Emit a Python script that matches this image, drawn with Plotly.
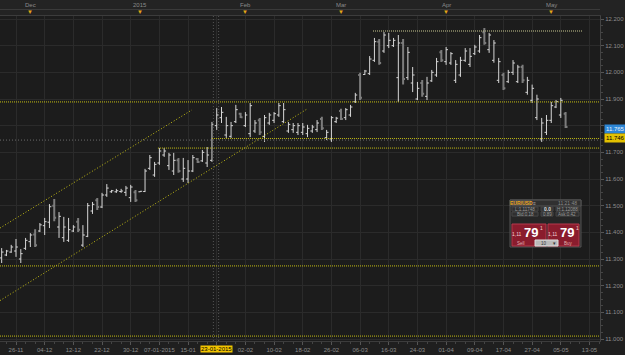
import plotly.graph_objects as go
import pandas as pd

# ---------------- data (daily OHLC, one bar per weekday from 21-11-2014) -------------
opens = [11.304, 11.315, 11.326, 11.330, 11.300, 11.340, 11.365, 11.392, 11.405, 11.425,
         11.438, 11.500, 11.420, 11.380, 11.370, 11.405, 11.440, 11.352, 11.385, 11.480,
         11.520, 11.495, 11.540, 11.552, 11.552, 11.553, 11.550, 11.530, 11.550, 11.552,
         11.553, 11.640, 11.615, 11.660, 11.690, 11.650, 11.630, 11.670, 11.600, 11.600,
         11.630, 11.675, 11.668, 11.660, 11.670, 11.800, 11.830, 11.765, 11.760, 11.815,
         11.845, 11.800, 11.770, 11.780, 11.820, 11.760, 11.810, 11.820, 11.840, 11.815,
         11.780, 11.785, 11.775, 11.775, 11.770, 11.780, 11.785, 11.825, 11.755, 11.750,
         11.815, 11.855, 11.830, 11.840, 11.890, 11.990, 11.992, 11.995, 12.045, 12.115,
         12.080, 12.100, 12.100, 11.980, 12.110, 11.980, 11.960, 11.900, 11.960, 11.910,
         11.968, 11.990, 12.075, 12.040, 12.035, 11.970, 11.990, 12.045, 12.030, 12.070,
         12.080, 12.150, 12.085, 12.045, 11.970, 11.990, 11.965, 12.000, 11.965, 12.020,
         11.925, 11.895, 11.830, 11.750, 11.775, 11.820, 11.870, 11.840, 11.845]
highs = [11.341, 11.334, 11.353, 11.375, 11.337, 11.379, 11.397, 11.412, 11.435, 11.454,
         11.506, 11.525, 11.476, 11.458, 11.454, 11.427, 11.454, 11.427, 11.510, 11.514,
         11.529, 11.548, 11.581, 11.559, 11.563, 11.563, 11.574, 11.578, 11.559, 11.555,
         11.638, 11.690, 11.664, 11.716, 11.716, 11.698, 11.698, 11.679, 11.679, 11.671,
         11.690, 11.679, 11.709, 11.720, 11.814, 11.866, 11.870, 11.833, 11.814, 11.878,
         11.848, 11.851, 11.885, 11.821, 11.829, 11.840, 11.848, 11.851, 11.885, 11.885,
         11.814, 11.810, 11.810, 11.810, 11.803, 11.803, 11.821, 11.833, 11.784, 11.836,
         11.833, 11.863, 11.866, 11.878, 11.923, 11.998, 12.009, 12.061, 12.129, 12.125,
         12.151, 12.148, 12.129, 12.140, 12.125, 12.095, 12.020, 11.964, 11.971, 11.983,
         12.009, 12.054, 12.084, 12.095, 12.076, 12.046, 12.058, 12.091, 12.091, 12.103,
         12.140, 12.166, 12.148, 12.121, 12.054, 11.998, 12.009, 12.046, 12.028, 12.028,
         11.983, 11.954, 11.916, 11.829, 11.840, 11.889, 11.896, 11.904, 11.851]
lows = [11.285, 11.311, 11.323, 11.308, 11.285, 11.334, 11.345, 11.345, 11.401, 11.390,
        11.416, 11.442, 11.379, 11.364, 11.364, 11.401, 11.401, 11.345, 11.382, 11.469,
        11.484, 11.491, 11.533, 11.548, 11.548, 11.548, 11.536, 11.514, 11.514, 11.551,
        11.551, 11.634, 11.608, 11.653, 11.683, 11.634, 11.615, 11.623, 11.589, 11.585,
        11.626, 11.660, 11.664, 11.645, 11.664, 11.784, 11.810, 11.754, 11.754, 11.810,
        11.829, 11.795, 11.757, 11.773, 11.765, 11.739, 11.803, 11.810, 11.833, 11.810,
        11.773, 11.773, 11.765, 11.765, 11.757, 11.773, 11.776, 11.784, 11.746, 11.739,
        11.810, 11.821, 11.821, 11.833, 11.885, 11.896, 11.990, 11.990, 12.039, 12.028,
        12.073, 12.091, 12.095, 11.889, 11.954, 11.971, 11.926, 11.896, 11.908, 11.896,
        11.964, 11.983, 12.039, 12.028, 12.028, 11.960, 11.983, 12.039, 12.020, 12.065,
        12.073, 12.103, 12.073, 12.036, 11.960, 11.934, 11.960, 11.990, 11.960, 11.960,
        11.916, 11.885, 11.821, 11.739, 11.765, 11.810, 11.866, 11.829, 11.791]
closes = [11.326, 11.330, 11.345, 11.345, 11.320, 11.370, 11.390, 11.352, 11.428, 11.440,
          11.496, 11.455, 11.460, 11.420, 11.410, 11.420, 11.410, 11.390, 11.500, 11.505,
          11.495, 11.540, 11.566, 11.556, 11.556, 11.555, 11.566, 11.570, 11.520, 11.554,
          11.630, 11.680, 11.655, 11.705, 11.705, 11.690, 11.670, 11.630, 11.640, 11.630,
          11.680, 11.664, 11.700, 11.690, 11.805, 11.840, 11.850, 11.800, 11.800, 11.860,
          11.832, 11.840, 11.875, 11.810, 11.775, 11.830, 11.840, 11.845, 11.875, 11.860,
          11.805, 11.800, 11.800, 11.795, 11.790, 11.795, 11.810, 11.790, 11.775, 11.830,
          11.828, 11.825, 11.860, 11.870, 11.915, 11.905, 12.005, 12.050, 12.115, 12.035,
          12.140, 12.120, 12.120, 12.110, 11.975, 12.075, 11.990, 11.940, 11.920, 11.960,
          12.000, 12.040, 12.045, 12.085, 12.070, 12.030, 12.045, 12.080, 12.060, 12.095,
          12.130, 12.110, 12.140, 12.110, 12.040, 11.940, 12.000, 12.035, 12.020, 11.970,
          11.970, 11.940, 11.900, 11.810, 11.820, 11.875, 11.890, 11.895, 11.795]

dates = [d.strftime("%d-%m-%Y") for d in pd.bdate_range("2014-11-21", periods=len(opens))]
bar_pos = list(range(len(opens)))

tick_labels = ["26-11", "04-12", "12-12", "22-12", "30-12", "07-01-2015", "15-01",
               "23-01-2015", "02-02", "10-02", "18-02", "26-02", "06-03", "16-03",
               "24-03", "01-04", "09-04", "17-04", "27-04", "05-05", "13-05"]
tick_pos = [3 + 6 * n for n in range(len(tick_labels))]
highlight_label = "23-01-2015"

month_labels = ["Dec", "2015", "Feb", "Mar", "Apr", "May"]
month_pos = [6, 29, 51, 71, 93, 115]

price_ticks = [11.0, 11.1, 11.2, 11.3, 11.4, 11.5, 11.6, 11.7, 11.8, 11.9, 12.0, 12.1, 12.2]

# drawn analysis levels (price) and trend lines (bar position, price)
full_levels = [11.889, 11.274, 11.011]
partial_levels = [(11.752, 44.0), (11.716, 32.7)]
top_level = (12.155, 77.7, 121.6)
upper_channel = [(-0.35, 11.416), (39.8, 11.859)]
lower_channel = [(-0.35, 11.144), (63.9, 11.8625)]
crosshair_price = 11.746
crosshair_pos = [44.3, 45.4]
last_price, cross_price = "11.765", "11.746"

XR = [-0.35, 125.2]
YR = [10.9925, 12.21125]
YEL = "#c4bd14"
DOT = "1px,1px"
DOT2 = "1px,2px"

fig = go.Figure()
fig.add_trace(go.Ohlc(
    x=bar_pos, open=opens, high=highs, low=lows, close=closes, text=dates,
    increasing=dict(line=dict(color="#d6d6d6", width=1)),
    decreasing=dict(line=dict(color="#7c7c7c", width=2)),
    tickwidth=0.4, hoverinfo="text+y"))

shapes = []
# top strip
shapes.append(dict(type="rect", xref="paper", yref="paper", x0=0, x1=1.05, y0=1.0, y1=1.06,
                   fillcolor="#232323", line=dict(width=0), layer="below"))
shapes.append(dict(type="line", xref="paper", yref="paper", x0=0, x1=1.0, y0=1.0200, y1=1.0200,
                   line=dict(color="#3a3a3a", width=1)))
for p in full_levels:
    shapes.append(dict(type="line", xref="x", yref="y", x0=XR[0], x1=XR[1], y0=p, y1=p,
                       line=dict(color=YEL, width=1, dash=DOT)))
for p, x0 in partial_levels:
    shapes.append(dict(type="line", xref="x", yref="y", x0=x0, x1=XR[1], y0=p, y1=p,
                       line=dict(color=YEL, width=1, dash=DOT)))
shapes.append(dict(type="line", xref="x", yref="y", x0=top_level[1], x1=top_level[2],
                   y0=top_level[0], y1=top_level[0],
                   line=dict(color="#c8c890", width=1, dash=DOT)))
for ln in (upper_channel, lower_channel):
    shapes.append(dict(type="line", xref="x", yref="y", x0=ln[0][0], y0=ln[0][1],
                       x1=ln[1][0], y1=ln[1][1], line=dict(color=YEL, width=1, dash=DOT2)))
# crosshair
shapes.append(dict(type="line", xref="x", yref="y", x0=XR[0], x1=XR[1],
                   y0=crosshair_price, y1=crosshair_price,
                   line=dict(color="#6a6a6a", width=1, dash=DOT2)))
for cx in crosshair_pos:
    shapes.append(dict(type="line", xref="x", yref="paper", x0=cx, x1=cx, y0=0, y1=1,
                       line=dict(color="#555555", width=1, dash=DOT2)))

# trading widget (paper coords)
def prect(x0, x1, y0, y1, fill, line="#4a4a4a", w=1):
    shapes.append(dict(type="rect", xref="paper", yref="paper", x0=x0, x1=x1, y0=y0, y1=y1,
                       fillcolor=fill, line=dict(color=line, width=w)))

prect(0.850, 0.9683, 0.2892, 0.4338, "#262626", "#555555")
prect(0.850, 0.9683, 0.4154, 0.4338, "#303030", "#555555")
prect(0.8533, 0.885, 0.4185, 0.4308, "#474747", "#5a5a5a")
for y0, y1 in ((0.3998, 0.4123), (0.3843, 0.3969)):
    prect(0.8533, 0.8967, y0, y1, "#2f2f2f", "#464646")
    prect(0.9017, 0.9217, y0, y1, "#333333", "#464646")
    prect(0.9267, 0.965, y0, y1, "#2f2f2f", "#464646")
prect(0.8533, 0.910, 0.2923, 0.360, "#8a1c2d", "#b5394c")
prect(0.9133, 0.965, 0.2923, 0.360, "#8a1c2d", "#b5394c")
prect(0.8917, 0.930, 0.2923, 0.3108, "#b9b9b9", "#dddddd")

ann = []
def ptxt(x, y, t, size=5, color="#9a9a9a", bold=False, xanchor="center"):
    ann.append(dict(xref="paper", yref="paper", x=x, y=y, text=("<b>%s</b>" % t) if bold else t,
                    showarrow=False, xanchor=xanchor, yanchor="middle",
                    font=dict(size=size, color=color)))

ptxt(0.869, 0.4246, "EUR/USD", 5, "#e8a21c", True)
ptxt(0.891, 0.4246, "≡", 5, "#aaaaaa")
ptxt(0.945, 0.4246, "11:21:48", 5, "#8a8a8a")
ptxt(0.875, 0.4061, "L:1.11748", 4.5)
ptxt(0.9117, 0.4061, "0.0", 5, "#dddddd", True)
ptxt(0.9458, 0.4061, "H:1.12088", 4.5)
ptxt(0.875, 0.3906, "Bid:0.18", 4.5)
ptxt(0.9117, 0.3906, "0.89", 4.5)
ptxt(0.9458, 0.3906, "Ask:0.42", 4.5)
for bx in (0.8533, 0.9133):
    ptxt(bx + 0.009, 0.330, "1,11", 5, "#f0d0d0")
    ptxt(bx + 0.0325, 0.333, "79", 13, "#ffffff", True)
    ptxt(bx + 0.049, 0.347, "1", 5, "#f0d0d0")
ptxt(0.868, 0.3015, "Sell", 4.5, "#e0b0b0")
ptxt(0.948, 0.3015, "Buy", 4.5, "#e0b0b0")
ptxt(0.906, 0.3015, "10", 4.5, "#333333")
ptxt(0.924, 0.3015, "▾", 5, "#333333")

# month labels + markers on the top strip
for t, mp in zip(month_labels, month_pos):
    ann.append(dict(xref="x", yref="paper", x=mp, y=1.0338, text=t, showarrow=False,
                    yanchor="middle", font=dict(size=6, color="#8a8a8a")))
    ann.append(dict(xref="x", yref="paper", x=mp, y=1.0110, text="▼", showarrow=False,
                    yanchor="middle", font=dict(size=6, color="#e3a818")))
# highlighted date
hp = tick_pos[tick_labels.index(highlight_label)]
ann.append(dict(xref="x", yref="paper", x=hp, y=-0.0246, text=highlight_label, showarrow=False,
                yanchor="middle", bgcolor="#f2c400", borderpad=0,
                font=dict(size=6, color="#000000")))
# price tags
ann.append(dict(xref="paper", yref="y", x=1.0067, y=11.7875, text=last_price, showarrow=False,
                xanchor="left", yanchor="middle", bgcolor="#2d86d6", borderpad=1,
                font=dict(size=6, color="#e8f4ff")))
ann.append(dict(xref="paper", yref="y", x=1.0067, y=11.754, text=cross_price, showarrow=False,
                xanchor="left", yanchor="middle", bgcolor="#e4c100", borderpad=1,
                font=dict(size=6, color="#000000")))

fig.update_layout(
    width=625, height=355, margin=dict(l=0, r=25, t=16, b=14),
    paper_bgcolor="#1f1f1f", plot_bgcolor="#1c1c1c", showlegend=False,
    font=dict(family="Liberation Sans", size=6, color="#8c8c8c"),
    shapes=shapes, annotations=ann,
    xaxis=dict(range=XR, tickmode="array", tickvals=tick_pos,
               ticktext=["" if t == highlight_label else t for t in tick_labels],
               ticks="outside", ticklen=3, tickcolor="#555555", showgrid=True,
               gridcolor="#2b2b2b", zeroline=False, showline=True, linecolor="#3c3c3c",
               mirror=True, rangeslider=dict(visible=False), tickfont=dict(size=6),
               minor=dict(dtick=2, tick0=1, ticks="outside", ticklen=2, tickcolor="#444444")),
    yaxis=dict(range=YR, side="right", tickmode="array", tickvals=price_ticks,
               ticktext=["" if abs(v - 11.8) < 1e-9 else "%.3f" % v for v in price_ticks],
               ticks="outside", ticklen=3, tickcolor="#555555", showgrid=True,
               gridcolor="#2b2b2b", zeroline=False, showline=True, linecolor="#444444",
               mirror=True, tickfont=dict(size=6),
               minor=dict(dtick=0.025, ticks="outside", ticklen=2, tickcolor="#444444")),
)

fig.write_html("out.html")
